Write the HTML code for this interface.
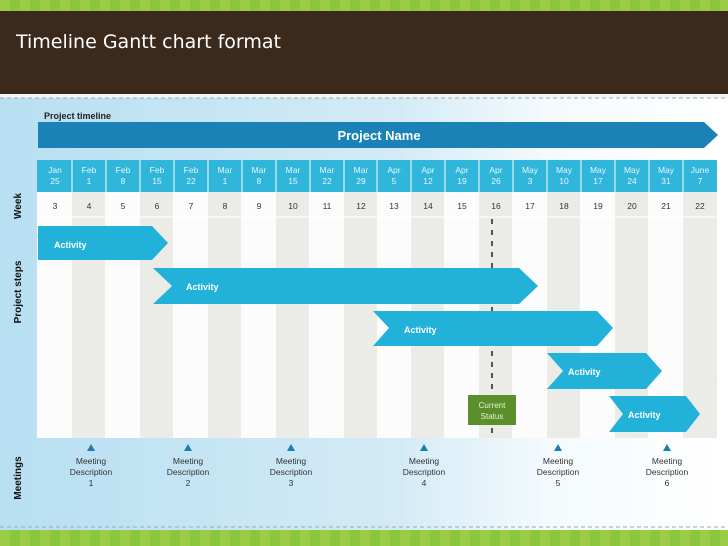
<!DOCTYPE html>
<html><head><meta charset="utf-8"><style>
html,body{margin:0;padding:0;width:728px;height:546px;overflow:hidden}
</style></head><body>
<svg width="728" height="546" viewBox="0 0 728 546" xmlns="http://www.w3.org/2000/svg" font-family="Liberation Sans, sans-serif">
<defs>
<linearGradient id="bg" x1="0" y1="0" x2="1" y2="0">
<stop offset="0" stop-color="#b7dff2"/><stop offset="0.55" stop-color="#d4ebf6"/><stop offset="0.75" stop-color="#f4fafd"/><stop offset="1" stop-color="#ffffff"/>
</linearGradient>
<pattern id="grn" width="20" height="20" patternUnits="userSpaceOnUse"><rect width="20" height="20" fill="#8cc63f"/><rect width="10" height="20" fill="#9acd45"/></pattern>
</defs>
<rect width="728" height="546" fill="url(#bg)"/>
<rect width="728" height="11" fill="url(#grn)"/>
<rect y="11" width="728" height="83" fill="#3b2a1c"/>
<rect y="94" width="728" height="4" fill="#f2f6f8"/>
<line x1="0" y1="98" x2="728" y2="98" stroke="#9aa" stroke-dasharray="4,3"/>
<line x1="0" y1="527" x2="728" y2="527" stroke="#9aa" stroke-dasharray="4,3"/>
<rect y="530" width="728" height="16" fill="url(#grn)"/>
<text x="16" y="48" fill="#fff" font-size="19" font-family="DejaVu Sans, sans-serif">Timeline Gantt chart format</text>
<text x="44" y="119" font-size="9" font-weight="bold" fill="#222">Project timeline</text>
<polygon points="38,122 704,122 718,135 704,148 38,148" fill="#1a82b6"/>
<text x="379" y="140" font-size="13" font-weight="bold" fill="#fff" text-anchor="middle">Project Name</text>
<rect x="37" y="192" width="680" height="246" fill="#fcfcfc"/>
<g fill="#ebebe7">
<rect x="72" y="192" width="33" height="246"/><rect x="140" y="192" width="33" height="246"/><rect x="208" y="192" width="33" height="246"/><rect x="276" y="192" width="33" height="246"/><rect x="344" y="192" width="33" height="246"/><rect x="411" y="192" width="33" height="246"/><rect x="479" y="192" width="33" height="246"/><rect x="547" y="192" width="33" height="246"/><rect x="615" y="192" width="33" height="246"/><rect x="683" y="192" width="34" height="246"/>
</g>
<line x1="37" y1="217" x2="717" y2="217" stroke="#fff"/>
<rect x="37" y="160" width="680" height="32" fill="#2fb6da"/>
<g stroke="#fff" stroke-width="1">
<line x1="72" y1="160" x2="72" y2="192"/><line x1="106" y1="160" x2="106" y2="192"/><line x1="140" y1="160" x2="140" y2="192"/><line x1="174" y1="160" x2="174" y2="192"/><line x1="208" y1="160" x2="208" y2="192"/><line x1="242" y1="160" x2="242" y2="192"/><line x1="276" y1="160" x2="276" y2="192"/><line x1="310" y1="160" x2="310" y2="192"/><line x1="344" y1="160" x2="344" y2="192"/><line x1="377" y1="160" x2="377" y2="192"/><line x1="411" y1="160" x2="411" y2="192"/><line x1="445" y1="160" x2="445" y2="192"/><line x1="479" y1="160" x2="479" y2="192"/><line x1="513" y1="160" x2="513" y2="192"/><line x1="547" y1="160" x2="547" y2="192"/><line x1="581" y1="160" x2="581" y2="192"/><line x1="615" y1="160" x2="615" y2="192"/><line x1="649" y1="160" x2="649" y2="192"/><line x1="683" y1="160" x2="683" y2="192"/>
</g>
<g font-size="8.5" fill="#e8f6fb" text-anchor="middle">
<text x="55" y="173">Jan</text><text x="55" y="184">25</text>
<text x="89" y="173">Feb</text><text x="89" y="184">1</text>
<text x="123" y="173">Feb</text><text x="123" y="184">8</text>
<text x="157" y="173">Feb</text><text x="157" y="184">15</text>
<text x="191" y="173">Feb</text><text x="191" y="184">22</text>
<text x="225" y="173">Mar</text><text x="225" y="184">1</text>
<text x="259" y="173">Mar</text><text x="259" y="184">8</text>
<text x="293" y="173">Mar</text><text x="293" y="184">15</text>
<text x="327" y="173">Mar</text><text x="327" y="184">22</text>
<text x="361" y="173">Mar</text><text x="361" y="184">29</text>
<text x="394" y="173">Apr</text><text x="394" y="184">5</text>
<text x="428" y="173">Apr</text><text x="428" y="184">12</text>
<text x="462" y="173">Apr</text><text x="462" y="184">19</text>
<text x="496" y="173">Apr</text><text x="496" y="184">26</text>
<text x="530" y="173">May</text><text x="530" y="184">3</text>
<text x="564" y="173">May</text><text x="564" y="184">10</text>
<text x="598" y="173">May</text><text x="598" y="184">17</text>
<text x="632" y="173">May</text><text x="632" y="184">24</text>
<text x="666" y="173">May</text><text x="666" y="184">31</text>
<text x="700" y="173">June</text><text x="700" y="184">7</text>
</g>
<g font-size="8.5" fill="#333" text-anchor="middle">
<text x="55" y="209">3</text><text x="89" y="209">4</text><text x="123" y="209">5</text><text x="157" y="209">6</text><text x="191" y="209">7</text><text x="225" y="209">8</text><text x="259" y="209">9</text><text x="293" y="209">10</text><text x="327" y="209">11</text><text x="361" y="209">12</text><text x="394" y="209">13</text><text x="428" y="209">14</text><text x="462" y="209">15</text><text x="496" y="209">16</text><text x="530" y="209">17</text><text x="564" y="209">18</text><text x="598" y="209">19</text><text x="632" y="209">20</text><text x="666" y="209">21</text><text x="700" y="209">22</text>
</g>
<line x1="492" y1="219" x2="492" y2="438" stroke="#222" stroke-width="1.5" stroke-dasharray="5,6"/>
<g fill="#22b1d8">
<polygon points="38,226 152,226 168,243 152,260 38,260"/>
<polygon points="153,268 519,268 538,286 519,304 153,304 172,286"/>
<polygon points="373,311 597,311 613,328 597,346 373,346 389,328"/>
<polygon points="547,353 646,353 662,371 646,389 547,389 563,371"/>
<polygon points="609,396 686,396 700,414 686,432 609,432 623,414"/>
</g>
<g font-size="9" font-weight="bold" fill="#fff">
<text x="54" y="248">Activity</text><text x="186" y="290">Activity</text><text x="404" y="333">Activity</text><text x="568" y="375">Activity</text><text x="628" y="418">Activity</text>
</g>
<rect x="468" y="395" width="48" height="30" fill="#5b8f2b"/>
<text x="492" y="408" font-size="8" fill="#e6f0d8" text-anchor="middle">Current</text>
<text x="492" y="419" font-size="8" fill="#e6f0d8" text-anchor="middle">Status</text>
<g fill="#1a7fb0">
<polygon points="91,444 95,451 87,451"/><polygon points="188,444 192,451 184,451"/><polygon points="291,444 295,451 287,451"/><polygon points="424,444 428,451 420,451"/><polygon points="558,444 562,451 554,451"/><polygon points="667,444 671,451 663,451"/>
</g>
<g font-size="8.5" fill="#333" text-anchor="middle">
<text x="91" y="464">Meeting</text><text x="91" y="475">Description</text><text x="91" y="486">1</text>
<text x="188" y="464">Meeting</text><text x="188" y="475">Description</text><text x="188" y="486">2</text>
<text x="291" y="464">Meeting</text><text x="291" y="475">Description</text><text x="291" y="486">3</text>
<text x="424" y="464">Meeting</text><text x="424" y="475">Description</text><text x="424" y="486">4</text>
<text x="558" y="464">Meeting</text><text x="558" y="475">Description</text><text x="558" y="486">5</text>
<text x="667" y="464">Meeting</text><text x="667" y="475">Description</text><text x="667" y="486">6</text>
</g>
<g font-size="10" font-weight="bold" fill="#111" text-anchor="middle">
<text transform="translate(21,206) rotate(-90)">Week</text>
<text transform="translate(21,292) rotate(-90)">Project steps</text>
<text transform="translate(21,478) rotate(-90)">Meetings</text>
</g>
</svg>
</body></html>
